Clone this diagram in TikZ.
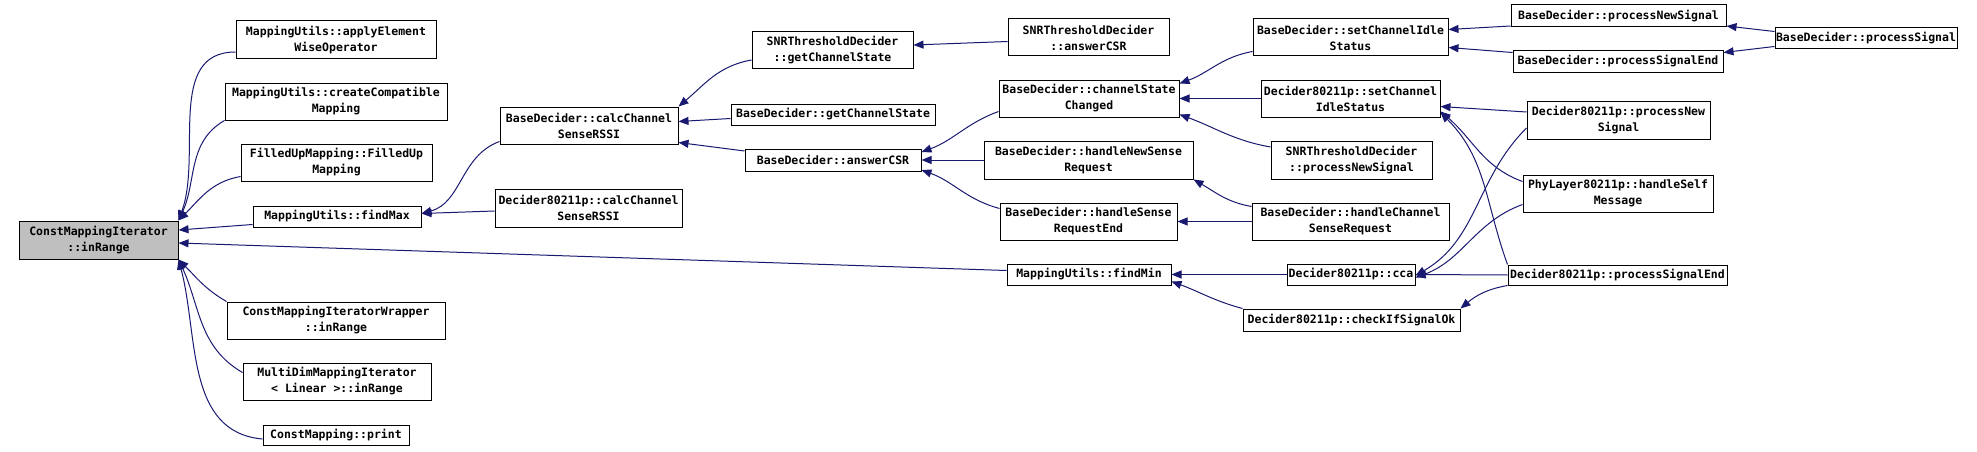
\documentclass[tikz,border=0pt]{standalone}
\usepackage{fontspec}
\newfontfamily\doxfont{DejaVu Sans Mono}
\usetikzlibrary{arrows.meta,calc}
\definecolor{callblue}{HTML}{191970}
\definecolor{rootgray}{HTML}{BFBFBF}

\begin{document}
\begin{tikzpicture}[x=1pt, y=1pt, every node/.style={align=center},
  fnbox/.style={draw=black, line width=1pt, inner sep=0pt,
    font=\doxfont\bfseries\fontsize{11.5}{16}\selectfont, minimum height=37pt},
  fnline/.style={fnbox, minimum height=21pt},
  callarrow/.style={draw=callblue, line width=1pt, -{Triangle[length=10pt,width=8pt]}}]

  \useasboundingbox (0,0) rectangle (1977,-452);

  % --- Wurzel ---
  \node (inRange) at (98.5,-240) [fnbox, fill=rootgray, minimum width=159pt, minimum height=38pt] {ConstMappingIterator\\::inRange};

  % --- Ebene 1 ---
  \node (applyOp)      at (336,-40)    [fnbox, minimum width=200pt, minimum height=38pt] {MappingUtils::applyElement\\WiseOperator};
  \node (createMap)    at (336,-101.5) [fnbox, minimum width=222pt] {MappingUtils::createCompatible\\Mapping};
  \node (filledUp)     at (336.5,-162.5) [fnbox, minimum width=191pt] {FilledUpMapping::FilledUp\\Mapping};
  \node (findMax)      at (337,-216.5) [fnline, minimum width=168pt] {MappingUtils::findMax};
  \node (wrapperRange) at (336,-320.5) [fnbox, minimum width=218pt] {ConstMappingIteratorWrapper\\::inRange};
  \node (multiRange)   at (337,-381.5) [fnbox, minimum width=188pt] {MultiDimMappingIterator\\< Linear >::inRange};
  \node (printMap)     at (336,-435)   [fnline, minimum width=146pt, minimum height=20pt] {ConstMapping::print};

  % --- Ebene 2 ---
  \node (calcBase)  at (589,-125.5) [fnbox, minimum width=178pt] {BaseDecider::calcChannel\\SenseRSSI};
  \node (calc80211) at (588.5,-208) [fnbox, minimum width=187pt, minimum height=38pt] {Decider80211p::calcChannel\\SenseRSSI};

  % --- Ebene 3 ---
  \node (snrGetState)  at (832.5,-50) [fnbox, minimum width=161pt, minimum height=36pt] {SNRThresholdDecider\\::getChannelState};
  \node (baseGetState) at (833,-114.5) [fnline, minimum width=204pt] {BaseDecider::getChannelState};
  \node (answerCSR)    at (833,-160)   [fnline, minimum width=176pt, minimum height=22pt] {BaseDecider::answerCSR};

  % --- Ebene 4 ---
  \node (snrAnswer)    at (1088.5,-37.5) [fnbox, minimum width=161pt] {SNRThresholdDecider\\::answerCSR};
  \node (stateChanged) at (1089,-98.5)   [fnbox, minimum width=180pt] {BaseDecider::channelState\\Changed};
  \node (newSenseReq)  at (1088.5,-160)  [fnbox, minimum width=209pt, minimum height=38pt] {BaseDecider::handleNewSense\\Request};
  \node (senseReqEnd)  at (1088.5,-221.5) [fnbox, minimum width=177pt] {BaseDecider::handleSense\\RequestEnd};
  \node (findMin)      at (1089,-274.5)  [fnline, minimum width=164pt] {MappingUtils::findMin};

  % --- Ebene 5 ---
  \node (setIdle)      at (1350.5,-37.5) [fnbox, minimum width=195pt] {BaseDecider::setChannelIdle\\Status};
  \node (setIdle80211) at (1350.5,-98.5) [fnbox, minimum width=179pt] {Decider80211p::setChannel\\IdleStatus};
  \node (snrNewSignal) at (1351.5,-160)  [fnbox, minimum width=161pt, minimum height=38pt] {SNRThresholdDecider\\::processNewSignal};
  \node (chanSenseReq) at (1350.5,-221.5) [fnbox, minimum width=197pt] {BaseDecider::handleChannel\\SenseRequest};
  \node (cca)          at (1351,-274.5)  [fnline, minimum width=128pt] {Decider80211p::cca};
  \node (signalOk)     at (1351.5,-320)  [fnline, minimum width=217pt, minimum height=22pt] {Decider80211p::checkIfSignalOk};

  % --- Ebene 6 ---
  \node (baseNewSignal)  at (1618.5,-16)  [fnline, minimum width=215pt, minimum height=22pt] {BaseDecider::processNewSignal};
  \node (baseSignalEnd)  at (1618,-61.5)  [fnline, minimum width=210pt] {BaseDecider::processSignalEnd};
  \node (newSignal80211) at (1618.5,-120) [fnbox, minimum width=183pt, minimum height=38pt] {Decider80211p::processNew\\Signal};
  \node (selfMsg)        at (1618,-193.5) [fnbox, minimum width=190pt] {PhyLayer80211p::handleSelf\\Message};
  \node (signalEnd80211) at (1617.5,-275) [fnline, minimum width=219pt, minimum height=20pt] {Decider80211p::processSignalEnd};

  % --- Ebene 7 ---
  \node (processSignal) at (1866,-38.5) [fnline, minimum width=182pt] {BaseDecider::processSignal};

  % --- Aufrufer von inRange ---
  \draw[callarrow] ($(applyOp.west)+(0,-12)$) to[out=180,in=70] (inRange.north east);
  \draw[callarrow] (createMap.south west) to[out=210,in=65] (inRange.north east);
  \draw[callarrow] ($(filledUp.west)+(0,-14)$) to[out=190,in=45] (inRange.north east);
  \draw[callarrow] ($(findMax.west)+(0,-8)$) -- ($(inRange.east)+(0,10)$);
  \draw[callarrow] ($(findMin.west)+(0,4)$) -- ($(inRange.east)+(0,-3)$);
  \draw[callarrow] (wrapperRange.north west) to[out=150,in=-45] (inRange.south east);
  \draw[callarrow] ($(multiRange.west)+(0,9)$) to[out=150,in=-65] (inRange.south east);
  \draw[callarrow] ($(printMap.west)+(0,-4)$) to[out=175,in=-75] (inRange.south east);

  % --- Ebene 2 -> 1 ---
  \draw[callarrow] ($(calcBase.west)+(0,-16)$) to[out=200,in=15] ($(findMax.east)+(0,3)$);
  \draw[callarrow] ($(calc80211.west)+(0,-3)$) -- ($(findMax.east)+(0,3)$);

  % --- Ebene 3 -> 2 ---
  \draw[callarrow] ($(snrGetState.west)+(0,-10)$) to[out=190,in=40] (calcBase.north east);
  \draw[callarrow] ($(baseGetState.west)+(0,-4)$) -- ($(calcBase.east)+(0,4)$);
  \draw[callarrow] ($(answerCSR.west)+(0,9)$) -- ($(calcBase.east)+(0,-17)$);

  % --- Ebene 4 -> 3 ---
  \draw[callarrow] ($(snrAnswer.west)+(0,-4)$) -- ($(snrGetState.east)+(0,5)$);
  \draw[callarrow] ($(stateChanged.west)+(0,-13)$) to[out=200,in=20] ($(answerCSR.east)+(0,8)$);
  \draw[callarrow] (newSenseReq.west) -- (answerCSR.east);
  \draw[callarrow] ($(senseReqEnd.west)+(0,13)$) to[out=165,in=-20] ($(answerCSR.east)+(0,-10)$);

  % --- Ebene 5 -> 4 ---
  \draw[callarrow] ($(setIdle.west)+(0,-14)$) to[out=190,in=20] ($(stateChanged.east)+(0,15)$);
  \draw[callarrow] (setIdle80211.west) -- (stateChanged.east);
  \draw[callarrow] ($(snrNewSignal.west)+(0,13)$) to[out=170,in=-20] ($(stateChanged.east)+(0,-16)$);
  \draw[callarrow] ($(chanSenseReq.west)+(0,15)$) to[out=170,in=-30] (newSenseReq.south east);
  \draw[callarrow] (chanSenseReq.west) -- (senseReqEnd.east);
  \draw[callarrow] (cca.west) -- (findMin.east);
  \draw[callarrow] (signalOk.north west) to[out=165,in=-20] ($(findMin.east)+(0,-7)$);

  % --- Ebene 6 -> 5 ---
  \draw[callarrow] ($(baseNewSignal.west)+(0,-10)$) -- ($(setIdle.east)+(0,8)$);
  \draw[callarrow] ($(baseSignalEnd.west)+(0,9)$) -- ($(setIdle.east)+(0,-10)$);
  \draw[callarrow] ($(newSignal80211.west)+(0,8)$) -- ($(setIdle80211.east)+(0,-8)$);
  \draw[callarrow] ($(selfMsg.west)+(0,12)$) to[out=160,in=-40] ($(setIdle80211.east)+(0,-13)$);
  \draw[callarrow] (signalEnd80211.north west) to[out=110,in=-45] ($(setIdle80211.east)+(0,-14)$);
  \draw[callarrow] ($(newSignal80211.west)+(0,-8)$) to[out=225,in=30] ($(cca.east)+(0,-1)$);
  \draw[callarrow] ($(selfMsg.west)+(0,-11)$) to[out=200,in=20] ($(cca.east)+(0,-3)$);
  \draw[callarrow] (signalEnd80211.west) -- (cca.east);
  \draw[callarrow] (signalEnd80211.south west) to[out=190,in=40] (signalOk.north east);

  % --- Ebene 7 -> 6 ---
  \draw[callarrow] ($(processSignal.west)+(0,7)$) -- ($(baseNewSignal.east)+(0,-10)$);
  \draw[callarrow] ($(processSignal.west)+(0,-8)$) -- ($(baseSignalEnd.east)+(0,9)$);

\end{tikzpicture}
\end{document}
